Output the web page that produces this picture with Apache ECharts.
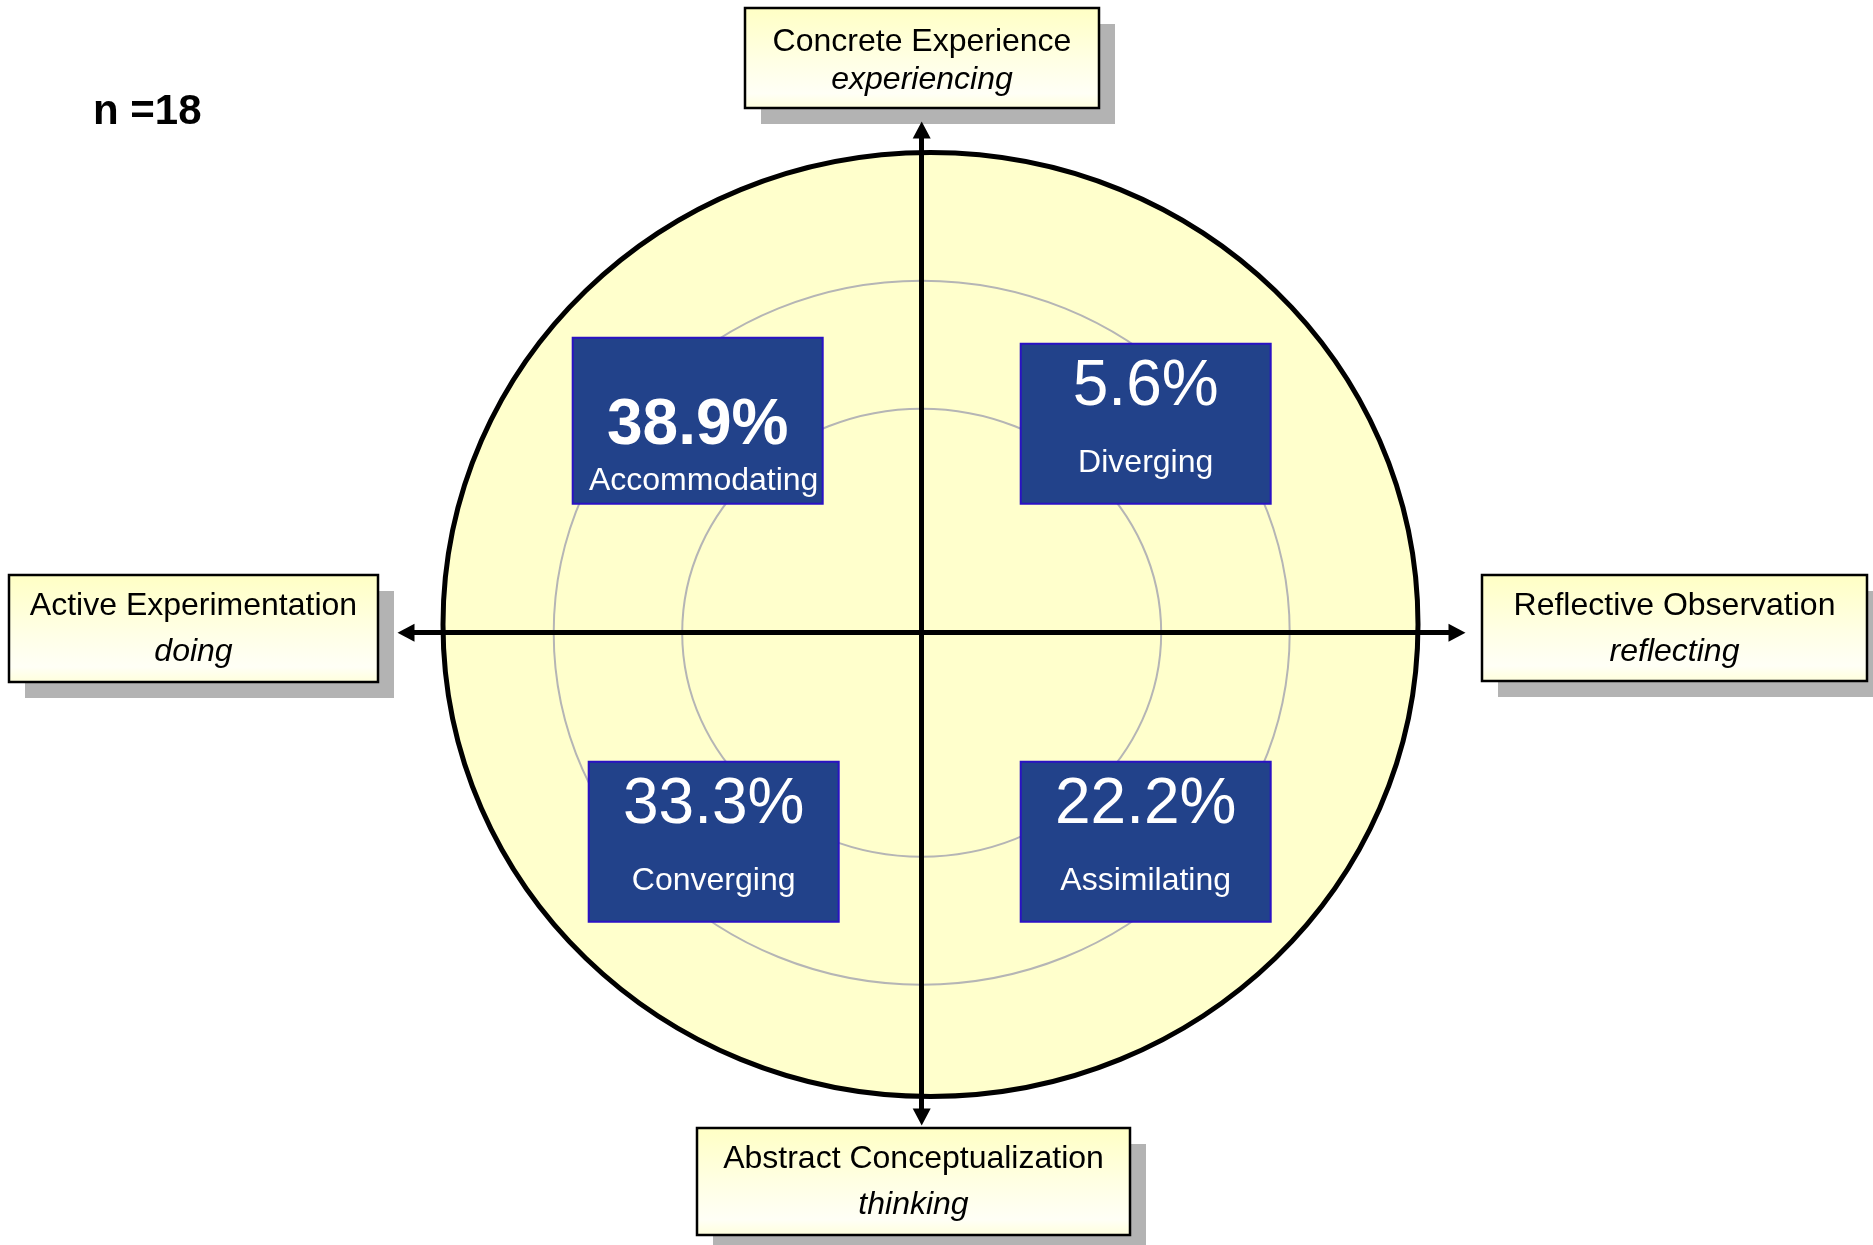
<!DOCTYPE html>
<html>
<head>
<meta charset="utf-8">
<title>Learning styles</title>
<script src="https://cdn.jsdelivr.net/npm/echarts@6/dist/echarts.min.js"></script>
<style>
    html, body { margin: 0; padding: 0; background: #fff; }
    #kolbChart { width: 1873px; height: 1245px; }
</style>
</head>
<body>
<div id="kolbChart"></div>
<script>
// learning style shares, n = 18
var sampleSize = 18;
var styleNames = ['Accommodating', 'Diverging', 'Converging', 'Assimilating'];
var styleShares = [38.9, 5.6, 33.3, 22.2];
// quadrant of each style: x -1 = doing, 1 = reflecting; y 1 = experiencing, -1 = thinking
var styleSideX = [-1, 1, -1, 1];
var styleSideY = [1, 1, -1, -1];

// learning modes at the ends of the axes (top, right, bottom, left)
var modeNames = ['Concrete Experience', 'Reflective Observation', 'Abstract Conceptualization', 'Active Experimentation'];
var modeVerbs = ['experiencing', 'reflecting', 'thinking', 'doing'];

var FONT = "'Liberation Sans', Arial, Helvetica, sans-serif";

// layout
var CX = 921.7, CY = 632.7;          // axes crossing
var UX = 224, UY = 209;              // px per quadrant unit
var AX_L = 406, AX_R = 1457, AX_T = 130, AX_B = 1117;
var BOX_W = 250, BOX_H = 160;
var BOX_SHIFT_X = [0, 0, 16, 0];
var BOX_GROW_TOP = [6, 0, 0, 0];
var MODE_BOXES = [
    { x: 745, y: 8, w: 354, h: 100, l1: 34, l2: 72 },
    { x: 1482, y: 575, w: 385, h: 106, l1: 31.5, l2: 77.5 },
    { x: 697, y: 1128, w: 433, h: 107, l1: 31.5, l2: 77.5 },
    { x: 9, y: 575, w: 369, h: 107, l1: 31.5, l2: 77.5 }
];

var graphics = [];

// yellow disc and the two grey rings
graphics.push({
    type: 'ellipse', z: 0,
    shape: { cx: 930.5, cy: 624.5, rx: 487.5, ry: 472 },
    style: { fill: '#FFFFCC', stroke: '#000', lineWidth: 5 }
});
graphics.push({
    type: 'ellipse', z: 0,
    shape: { cx: CX, cy: CY, rx: 368, ry: 352 },
    style: { fill: 'none', stroke: '#B5B5B5', lineWidth: 2 }
});
graphics.push({
    type: 'ellipse', z: 0,
    shape: { cx: CX, cy: CY, rx: 239.5, ry: 224 },
    style: { fill: 'none', stroke: '#B5B5B5', lineWidth: 2 }
});

// mode boxes with shadow
for (var i = 0; i < modeNames.length; i++) {
    var b = MODE_BOXES[i];
    graphics.push({
        type: 'rect', z: 1,
        shape: { x: b.x + 16, y: b.y + 16, width: b.w, height: b.h },
        style: { fill: '#B3B3B3' }
    });
    graphics.push({
        type: 'rect', z: 1,
        shape: { x: b.x, y: b.y, width: b.w, height: b.h },
        style: {
            fill: new echarts.graphic.LinearGradient(0, 0, 0, 1, [
                { offset: 0, color: '#FFFFC4' },
                { offset: 0.55, color: '#FFFFE6' },
                { offset: 0.85, color: '#FFFFF6' },
                { offset: 1, color: '#FFFFDA' }
            ]),
            stroke: '#000',
            lineWidth: 2.5
        }
    });
    graphics.push({
        type: 'text', z: 2,
        style: {
            text: modeNames[i], x: b.x + b.w / 2, y: b.y + b.l1,
            fill: '#000', font: '32px ' + FONT, align: 'center', verticalAlign: 'middle'
        }
    });
    graphics.push({
        type: 'text', z: 2,
        style: {
            text: modeVerbs[i], x: b.x + b.w / 2, y: b.y + b.l2,
            fill: '#000', font: 'italic 32px ' + FONT, align: 'center', verticalAlign: 'middle'
        }
    });
}

graphics.push({
    type: 'text', z: 2,
    style: {
        text: 'n =' + sampleSize, x: 93, y: 112,
        fill: '#000', font: 'bold 42px ' + FONT, align: 'left', verticalAlign: 'middle'
    }
});

var leadShare = Math.max.apply(null, styleShares);

var data = [];
for (var k = 0; k < styleNames.length; k++) {
    data.push([styleSideX[k], styleSideY[k], styleShares[k]]);
}

function axisLineStyle() {
    return {
        show: true,
        onZero: true,
        symbol: ['triangle', 'triangle'],
        symbolSize: [18, 17],
        lineStyle: { color: '#000', width: 5 }
    };
}

var option = {
    animation: false,
    backgroundColor: '#fff',
    graphic: graphics,
    grid: {
        left: AX_L,
        right: 1873 - AX_R,
        top: AX_T,
        bottom: 1245 - AX_B
    },
    xAxis: {
        type: 'value',
        min: (AX_L - CX) / UX,
        max: (AX_R - CX) / UX,
        z: 5,
        axisLine: axisLineStyle(),
        axisTick: { show: false },
        axisLabel: { show: false },
        splitLine: { show: false }
    },
    yAxis: {
        type: 'value',
        min: -(AX_B - CY) / UY,
        max: (CY - AX_T) / UY,
        z: 5,
        axisLine: axisLineStyle(),
        axisTick: { show: false },
        axisLabel: { show: false },
        splitLine: { show: false }
    },
    series: [{
        type: 'custom',
        coordinateSystem: 'cartesian2d',
        clip: false,
        z: 10,
        data: data,
        renderItem: function (params, api) {
            var i = params.dataIndex;
            var pos = api.coord([api.value(0), api.value(1)]);
            var share = api.value(2);
            var lead = share === leadShare;
            var left = pos[0] - BOX_W / 2 + BOX_SHIFT_X[i];
            var top = pos[1] - BOX_H / 2;
            var mid = left + BOX_W / 2;
            return {
                type: 'group',
                children: [
                    {
                        type: 'rect',
                        shape: { x: left, y: top - BOX_GROW_TOP[i], width: BOX_W, height: BOX_H + BOX_GROW_TOP[i] },
                        style: { fill: '#22428A', stroke: '#2A12C4', lineWidth: 2 }
                    },
                    {
                        type: 'text',
                        style: {
                            text: share.toFixed(1) + '%',
                            x: mid, y: top + (lead ? 83 : 44),
                            fill: '#fff',
                            font: (lead ? 'bold 64px ' : '64px ') + FONT,
                            align: 'center', verticalAlign: 'middle'
                        }
                    },
                    {
                        type: 'text',
                        style: {
                            text: styleNames[i],
                            x: mid + (lead ? 6 : 0), y: top + (lead ? 137 : 119),
                            fill: '#fff',
                            font: '32px ' + FONT,
                            align: 'center', verticalAlign: 'middle'
                        }
                    }
                ]
            };
        }
    }]
};

var chart = echarts.init(document.getElementById('kolbChart'));
chart.setOption(option);
</script>
</body>
</html>
